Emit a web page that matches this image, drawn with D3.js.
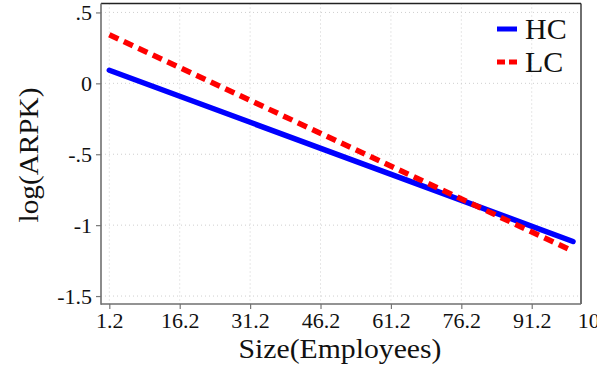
<!DOCTYPE html>
<html>
<head>
<meta charset="utf-8">
<script src="https://cdn.jsdelivr.net/npm/d3@7"></script>
<style>
  html, body { margin: 0; padding: 0; background: #fff; }
  svg { display: block; }
  svg text { font-family: "Liberation Serif", "DejaVu Serif", serif !important; fill: #111; }
</style>
</head>
<body>
<svg id="chart" width="597" height="374"></svg>
<script>
// Fitted log(ARPK) against firm size, by group
const sizeEnds = [1.2, 100];
const hcValues = [0.092, -1.115];
const lcValues = [0.343, -1.183];
const seriesNames = ["HC", "LC"];
const xTicks = [1.2, 16.2, 31.2, 46.2, 61.2, 76.2, 91.2, 106.2];
const yTicks = [0.5, 0, -0.5, -1, -1.5];
const yTickLabels = [".5", "0", "-.5", "-1", "-1.5"];

const svg = d3.select("#chart");
const plot = { left: 101, right: 581, top: 3.5, bottom: 304 };

const x = d3.scaleLinear().domain([-0.57, 101.7]).range([plot.left, plot.right]);
const y = d3.scaleLinear().domain([-1.556, 0.563]).range([plot.bottom, plot.top]);

// grid
const grid = svg.append("g");
grid.selectAll("line.gy").data(yTicks).join("line")
  .attr("x1", plot.left).attr("x2", plot.right)
  .attr("y1", d => y(d)).attr("y2", d => y(d))
  .attr("stroke", "#cfcfcf").attr("stroke-width", 1).attr("stroke-dasharray", "1,3");
grid.selectAll("line.gx").data(xTicks.filter(d => x(d) < plot.right)).join("line")
  .attr("x1", d => x(d)).attr("x2", d => x(d))
  .attr("y1", plot.top).attr("y2", plot.bottom)
  .attr("stroke", "#cfcfcf").attr("stroke-width", 1).attr("stroke-dasharray", "1,3");

// frame: dark top/right, grey axis lines left/bottom
svg.append("line").attr("x1", plot.left).attr("x2", plot.right).attr("y1", plot.top).attr("y2", plot.top)
  .attr("stroke", "#222").attr("stroke-width", 1.3);
svg.append("line").attr("x1", plot.right).attr("x2", plot.right).attr("y1", plot.top).attr("y2", plot.bottom)
  .attr("stroke", "#222").attr("stroke-width", 1.3);

// axes
const yAxis = d3.axisLeft(y).tickValues(yTicks).tickSize(5).tickPadding(4)
  .tickFormat((d, i) => yTickLabels[i]);
const gy = svg.append("g").attr("transform", `translate(${plot.left},0)`).call(yAxis);
gy.attr("font-family", null);
gy.select(".domain").remove();
gy.selectAll(".tick line").attr("stroke", "#777").attr("stroke-width", 1.2);
gy.selectAll(".tick text").attr("font-size", 22).attr("fill", "#111");

const xAxis = d3.axisBottom(x).tickValues(xTicks).tickSize(5).tickPadding(3)
  .tickFormat(d3.format(".1f"));
const gx = svg.append("g").attr("transform", `translate(0,${plot.bottom})`).call(xAxis);
gx.attr("font-family", null);
gx.select(".domain").remove();
gx.selectAll(".tick line").attr("stroke", "#777").attr("stroke-width", 1.2)
  .attr("display", d => x(d) > plot.right ? "none" : null);
gx.selectAll(".tick text").attr("font-size", 22).attr("fill", "#111");

svg.append("line").attr("x1", plot.left).attr("x2", plot.left).attr("y1", plot.top).attr("y2", plot.bottom + 0.8)
  .attr("stroke", "#6f6f6f").attr("stroke-width", 1.6);
svg.append("line").attr("x1", plot.left).attr("x2", plot.right).attr("y1", plot.bottom).attr("y2", plot.bottom)
  .attr("stroke", "#6f6f6f").attr("stroke-width", 1.6);

// series lines
const line = d3.line().x(d => x(d[0])).y(d => y(d[1]));
const hcPts = sizeEnds.map((s, i) => [s, hcValues[i]]);
const lcPts = sizeEnds.map((s, i) => [s, lcValues[i]]);

svg.append("path").attr("d", line(hcPts)).attr("fill", "none")
  .attr("stroke", "#0000ff").attr("stroke-width", 5.5).attr("stroke-linecap", "round");
svg.append("path").attr("d", line(lcPts)).attr("fill", "none")
  .attr("stroke", "#ff0000").attr("stroke-width", 5.5).attr("stroke-dasharray", "10,6");

// legend
const legend = svg.append("g");
legend.append("line").attr("x1", 497).attr("x2", 517).attr("y1", 29).attr("y2", 29)
  .attr("stroke", "#0000ff").attr("stroke-width", 5);
legend.append("line").attr("x1", 497).attr("x2", 517).attr("y1", 62).attr("y2", 62)
  .attr("stroke", "#ff0000").attr("stroke-width", 5).attr("stroke-dasharray", "8,4");
legend.append("text").attr("x", 525).attr("y", 39).attr("font-size", 30).text(seriesNames[0]);
legend.append("text").attr("x", 525).attr("y", 72).attr("font-size", 30).text(seriesNames[1]);

// axis titles
svg.append("text").attr("x", 340).attr("y", 358).attr("text-anchor", "middle")
  .attr("font-size", 27).attr("textLength", 203).attr("lengthAdjust", "spacingAndGlyphs")
  .text("Size(Employees)");
svg.append("text").attr("transform", "translate(38,155) rotate(-90)").attr("text-anchor", "middle")
  .attr("font-size", 27).attr("textLength", 135).attr("lengthAdjust", "spacingAndGlyphs")
  .text("log(ARPK)");
</script>
</body>
</html>
